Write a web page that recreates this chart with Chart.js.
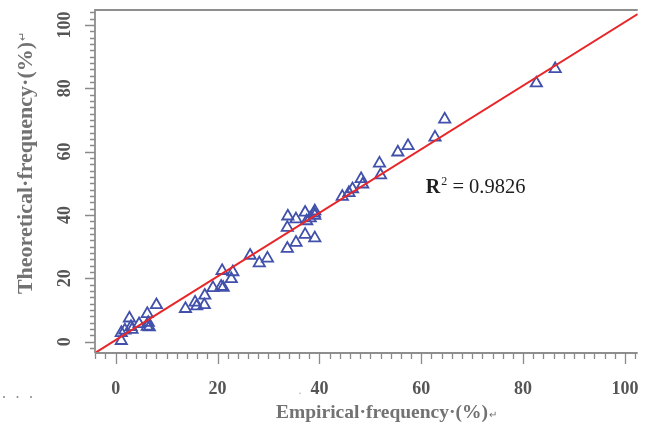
<!DOCTYPE html>
<html><head><meta charset="utf-8">
<script src="https://cdn.jsdelivr.net/npm/chart.js@4"></script>
<style>html,body{margin:0;padding:0;background:#fff;overflow:hidden}#wrap{width:646px;height:430px}</style>
</head><body><div id="wrap"><canvas id="c" width="646" height="430"></canvas></div>
<script>
// ---- data ----
const empirical = [
  1.1, 1.1, 1.8, 2.7, 3.0, 3.2, 4.6, 6.2, 6.2, 6.4, 6.6, 8.0,
  13.7, 15.6, 15.9, 17.4, 17.5, 19.1, 20.7, 21.1, 20.9, 22.7, 23.0,
  26.4, 28.2, 29.8,
  33.8, 35.4, 37.2, 39.1, 39.1, 37.5, 33.7, 33.7, 35.4, 37.2, 39.1, 38.2, 39.0,
  44.5, 45.8, 46.5, 48.2, 48.5, 52.0, 51.8,
  55.4, 57.4, 62.7, 64.6, 82.6, 86.3
];
const theoretical = [
  0.3, 2.8, 3.6, 7.4, 4.7, 3.8, 5.6, 8.8, 4.8, 6.0, 4.6, 11.6,
  10.4, 12.4, 11.2, 11.6, 14.6, 17.0, 17.4, 17.1, 22.4, 19.8, 22.0,
  27.2, 24.8, 26.3,
  39.6, 38.7, 40.8, 41.2, 39.8, 38.1, 36.0, 29.4, 31.3, 33.8, 32.7, 39.0, 40.5,
  45.8, 47.0, 48.2, 51.4, 49.7, 52.6, 56.3,
  59.8, 61.8, 64.5, 70.2, 81.6, 86.1
];
const fitX = [-4.06, 102.5];
const fitY = [-3.57, 103.4];
const xTickValues = [0, 20, 40, 60, 80, 100];
const xTickLabels = ['0', '20', '40', '60', '80', '100'];
const yTickValues = [0, 20, 40, 60, 80, 100];
const yTickLabels = ['0', '20', '40', '60', '80', '100'];
const xTitle = 'Empirical\u00B7frequency\u00B7(%)';
const yTitle = 'Theoretical\u00B7frequency\u00B7(%)';
const returnMark = '\u21B5';
const r2Value = '0.9826';
const r2Pos = {x: 60.9, y: 46.9};

const SERIF = '"Liberation Serif", "Times New Roman", serif';

const axesPlugin = {
  id: 'axesPlugin',
  afterDraw(chart) {
    const ctx = chart.ctx, a = chart.chartArea;
    const xs = chart.scales.x, ys = chart.scales.y;
    ctx.save();
    // frame lines
    ctx.strokeStyle = '#8e8e8e';
    ctx.lineWidth = 1.8;
    ctx.beginPath();
    ctx.moveTo(a.left, a.bottom); ctx.lineTo(a.right, a.bottom);
    ctx.moveTo(a.left, a.bottom); ctx.lineTo(a.left, a.top);
    ctx.lineTo(a.right, a.top);
    ctx.stroke();
    // ticks
    ctx.lineWidth = 1.3;
    ctx.strokeStyle = '#8a8a8a';
    ctx.beginPath();
    for (let v = -4; v <= 102; v += 2) {
      const px = Math.round(xs.getPixelForValue(v)) + 0.5;
      const len = (v % 20 === 0) ? 11 : 6;
      ctx.moveTo(px, a.bottom); ctx.lineTo(px, a.bottom + len);
    }
    for (let v = -2; v <= 104; v += 2) {
      const py = Math.round(ys.getPixelForValue(v)) + 0.5;
      const len = (v % 20 === 0) ? 10 : 5;
      ctx.moveTo(a.left, py); ctx.lineTo(a.left - len, py);
    }
    ctx.stroke();
    // tick labels
    ctx.fillStyle = '#555';
    ctx.font = 'bold 18px ' + SERIF;
    ctx.textAlign = 'center';
    ctx.textBaseline = 'middle';
    xTickValues.forEach((v, i) => {
      ctx.fillText(xTickLabels[i], xs.getPixelForValue(v), 389);
    });
    yTickValues.forEach((v, i) => {
      ctx.save();
      ctx.translate(65, ys.getPixelForValue(v));
      ctx.rotate(-Math.PI / 2);
      ctx.fillText(yTickLabels[i], 0, 0);
      ctx.restore();
    });
    // axis titles (with a small return mark after each)
    ctx.fillStyle = '#727272';
    ctx.textAlign = 'left';
    ctx.textBaseline = 'alphabetic';
    ctx.font = 'bold 19.5px ' + SERIF;
    const wx = ctx.measureText(xTitle).width;
    const x0 = 386 - (wx + 8) / 2;
    ctx.fillText(xTitle, x0, 418);
    ctx.font = '10px ' + SERIF;
    ctx.fillText(returnMark, x0 + wx + 1, 418);
    ctx.save();
    ctx.translate(32, 163.5);
    ctx.rotate(-Math.PI / 2);
    ctx.font = 'bold 22px ' + SERIF;
    const wy = ctx.measureText(yTitle).width;
    const y0 = -(wy + 9) / 2;
    ctx.fillText(yTitle, y0, 0);
    ctx.font = '11px ' + SERIF;
    ctx.fillText(returnMark, y0 + wy + 1, -6);
    ctx.restore();
    // stray marks
    ctx.fillStyle = '#8a8a8a';
    ctx.font = '16px ' + SERIF;
    ctx.textAlign = 'center';
    ctx.textBaseline = 'middle';
    ['.', '.', '.'].forEach((d, i) => ctx.fillText(d, 4 + i * 13.5, 394));
    ctx.fillStyle = '#aaa';
    ctx.font = '12px ' + SERIF;
    ctx.fillText('.', 300, 391);
    // R^2 annotation
    const rx = xs.getPixelForValue(r2Pos.x), ry = ys.getPixelForValue(r2Pos.y);
    ctx.fillStyle = '#1e1e1e';
    ctx.textAlign = 'left';
    ctx.textBaseline = 'alphabetic';
    ctx.font = 'bold 20px ' + SERIF;
    ctx.fillText('R', rx, ry);
    const wR = ctx.measureText('R').width;
    ctx.font = '12px ' + SERIF;
    ctx.fillText('2', rx + wR + 1, ry - 8);
    const w2 = ctx.measureText('2').width;
    ctx.font = '20.5px ' + SERIF;
    ctx.fillText(' = ' + r2Value, rx + wR + w2 + 1, ry);
    ctx.restore();
  }
};

new Chart(document.getElementById('c'), {
  type: 'scatter',
  data: {
    datasets: [
      {
        type: 'line',
        label: 'fit',
        data: fitX.map((x, i) => ({x: x, y: fitY[i]})),
        borderColor: '#e8272a',
        borderWidth: 2,
        pointRadius: 0,
        fill: false,
        tension: 0
      },
      {
        label: 'points',
        data: empirical.map((x, i) => ({x: x, y: theoretical[i]})),
        pointStyle: 'triangle',
        pointRadius: 6.5,
        borderColor: '#4150ab',
        backgroundColor: 'rgba(0,0,0,0)',
        borderWidth: 1.8
      }
    ]
  },
  options: {
    responsive: false,
    animation: false,
    devicePixelRatio: 1,
    layout: {padding: {left: 95, top: 10, right: 0, bottom: 77}},
    plugins: {legend: {display: false}, tooltip: {enabled: false}},
    scales: {
      x: {type: 'linear', min: -4.06, max: 102.5, display: false},
      y: {type: 'linear', min: -3.57, max: 104.7, display: false}
    }
  },
  plugins: [axesPlugin]
});
</script>
</body></html>
